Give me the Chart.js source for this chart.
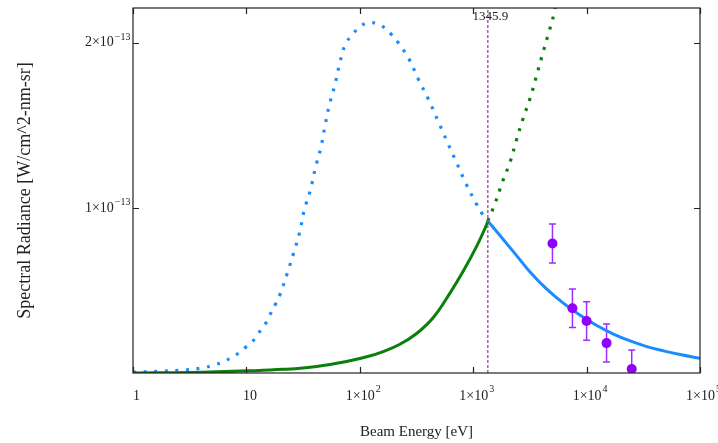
<!DOCTYPE html>
<html>
<head>
<meta charset="utf-8">
<script src="https://cdn.jsdelivr.net/npm/chart.js@4.4.1/dist/chart.umd.min.js"></script>
<style>
  html, body { margin: 0; padding: 0; background: #fff; }
  #wrap { width: 718px; height: 443px; position: relative; }
</style>
</head>
<body>
<div id="wrap"><canvas id="chart"></canvas></div>
<script>
// blue curve: rising part (dotted) up to the crossing energy
const blueRiseE = [1, 1.84, 2.76, 4.15, 5.13, 6.31, 7.28, 8.63, 9.93, 11.2, 12.6, 14.5, 16.0, 17.9, 19.8, 22.9, 26.2, 29.6, 32.3, 36.8, 40.4, 45.4, 49.2, 53.7, 60.3, 66.4, 75.0, 84.7, 100, 120, 145, 169, 189, 218, 271, 327, 405, 489, 590, 714, 863, 1074, 1202, 1345.9];
const blueRiseV = [0.004e-13, 0.011e-13, 0.018e-13, 0.031e-13, 0.048e-13, 0.068e-13, 0.092e-13, 0.122e-13, 0.158e-13, 0.187e-13, 0.236e-13, 0.291e-13, 0.348e-13, 0.412e-13, 0.476e-13, 0.603e-13, 0.730e-13, 0.857e-13, 0.984e-13, 1.111e-13, 1.237e-13, 1.366e-13, 1.491e-13, 1.618e-13, 1.745e-13, 1.873e-13, 1.994e-13, 2.042e-13, 2.097e-13, 2.121e-13, 2.113e-13, 2.085e-13, 2.051e-13, 2.000e-13, 1.902e-13, 1.781e-13, 1.654e-13, 1.527e-13, 1.400e-13, 1.273e-13, 1.147e-13, 1.020e-13, 0.964e-13, 0.920e-13];

// blue curve: falling part (solid) above the crossing energy
const blueFallE = [1345.9, 2259, 3170, 4457, 6237, 8770, 12300, 17260, 24210, 33960, 47640, 66830, 100000];
const blueFallV = [0.920e-13, 0.735e-13, 0.612e-13, 0.508e-13, 0.423e-13, 0.350e-13, 0.288e-13, 0.236e-13, 0.194e-13, 0.160e-13, 0.134e-13, 0.112e-13, 0.089e-13];

// green curve: solid below the crossing, dotted above
const greenRiseE = [1, 3.16, 10.7, 21.1, 41.6, 81.8, 115, 161, 226, 317, 445, 624, 818, 1074, 1315, 1345.9];
const greenRiseV = [0, 0.003e-13, 0.013e-13, 0.022e-13, 0.040e-13, 0.074e-13, 0.098e-13, 0.130e-13, 0.174e-13, 0.239e-13, 0.336e-13, 0.484e-13, 0.617e-13, 0.768e-13, 0.899e-13, 0.920e-13];
const greenClimbE = [1345.9, 1556, 1807, 2123, 2399, 2735, 3170, 3581, 4027, 4550, 5140, 5560];
const greenClimbV = [0.920e-13, 1.026e-13, 1.155e-13, 1.281e-13, 1.408e-13, 1.535e-13, 1.662e-13, 1.789e-13, 1.915e-13, 2.042e-13, 2.171e-13, 2.300e-13];

// measured points with error bars
const dataE = [5000, 7500, 10000, 15000, 25000];
const dataV = [0.784e-13, 0.392e-13, 0.315e-13, 0.181e-13, 0.024e-13];
const dataErr = [0.118e-13, 0.116e-13, 0.117e-13, 0.115e-13, 0.115e-13];

const crossE = 1345.9;
const crossLabel = '1345.9';

const xMin = 1, xMax = 1e5;
const yMin = 0, yMax = 2.21e-13;

const xTicks = [1, 10, 100, 1000, 10000, 100000];
const xTickBase = ['1', '10', '1×10', '1×10', '1×10', '1×10'];
const xTickExp = ['', '', '2', '3', '4', '5'];
const yTicks = [1e-13, 2e-13];
const yTickBase = ['1×10', '2×10'];
const yTickExp = ['−13', '−13'];

const BLUE = '#1a8cff';
const GREEN = '#0a7f0a';
const VIOLET = '#8f00ff';
const SERIF = '"Liberation Serif", "Times New Roman", serif';

function toPoints(xs, ys) {
    return xs.map((x, i) => ({ x: x, y: ys[i] }));
}

function curve(xs, ys, color, dotted) {
    return {
        data: toPoints(xs, ys),
        showLine: true,
        borderColor: color,
        borderWidth: dotted ? 3.2 : 3,
        borderDash: dotted ? [3, 7.6] : [],
        borderCapStyle: 'butt',
        tension: 0.4,
        pointRadius: 0,
        fill: false,
    };
}

// error bars, inward ticks, frame and superscript tick labels
const axisDecor = {
    id: 'axisDecor',
    beforeDatasetsDraw(chart) {
        const { ctx, chartArea: a, scales: { x, y } } = chart;
        ctx.save();
        ctx.beginPath();
        ctx.rect(a.left, a.top, a.right - a.left, a.bottom - a.top);
        ctx.clip();
        ctx.strokeStyle = '#9a30ff';
        ctx.lineWidth = 1.5;
        dataE.forEach((e, i) => {
            const px = x.getPixelForValue(e);
            const top = y.getPixelForValue(dataV[i] + dataErr[i]);
            const bot = y.getPixelForValue(dataV[i] - dataErr[i]);
            ctx.beginPath();
            ctx.moveTo(px, top); ctx.lineTo(px, bot);
            ctx.moveTo(px - 3.5, top); ctx.lineTo(px + 3.5, top);
            ctx.moveTo(px - 3.5, bot); ctx.lineTo(px + 3.5, bot);
            ctx.stroke();
        });
        ctx.restore();
    },
    afterDraw(chart) {
        const { ctx, chartArea: a, scales: { x, y } } = chart;
        ctx.save();
        ctx.strokeStyle = '#222';
        ctx.lineWidth = 1.2;
        ctx.strokeRect(a.left, a.top, a.right - a.left, a.bottom - a.top);

        ctx.beginPath();
        xTicks.forEach(v => {
            const px = Math.round(x.getPixelForValue(v)) + 0.5;
            ctx.moveTo(px, a.bottom); ctx.lineTo(px, a.bottom - 6);
            ctx.moveTo(px, a.top); ctx.lineTo(px, a.top + 6);
        });
        yTicks.forEach(v => {
            const py = Math.round(y.getPixelForValue(v)) + 0.5;
            ctx.moveTo(a.left, py); ctx.lineTo(a.left + 6, py);
            ctx.moveTo(a.right, py); ctx.lineTo(a.right - 6, py);
        });
        ctx.stroke();

        const baseFont = '14px ' + SERIF;
        const expFont = '10px ' + SERIF;
        ctx.fillStyle = '#222';
        ctx.textBaseline = 'middle';
        ctx.textAlign = 'left';

        xTicks.forEach((v, i) => {
            ctx.font = baseFont;
            const wb = ctx.measureText(xTickBase[i]).width;
            ctx.font = expFont;
            const we = xTickExp[i] ? ctx.measureText(xTickExp[i]).width + 1 : 0;
            const cx = x.getPixelForValue(v) + 3.5;
            const left = cx - (wb + we) / 2;
            const cy = a.bottom + 23;
            ctx.font = baseFont;
            ctx.fillText(xTickBase[i], left, cy);
            if (xTickExp[i]) {
                ctx.font = expFont;
                ctx.fillText(xTickExp[i], left + wb + 1, cy - 7);
            }
        });

        yTicks.forEach((v, i) => {
            ctx.font = expFont;
            const we = ctx.measureText(yTickExp[i]).width;
            ctx.font = baseFont;
            const wb = ctx.measureText(yTickBase[i]).width;
            const right = a.left - 2.5;
            const cy = y.getPixelForValue(v);
            ctx.fillText(yTickBase[i], right - we - 1 - wb, cy);
            ctx.font = expFont;
            ctx.fillText(yTickExp[i], right - we, cy - 5.5);
        });

        ctx.font = '13px ' + SERIF;
        ctx.textAlign = 'center';
        ctx.fillText(crossLabel, x.getPixelForValue(crossE) + 2.5, a.top + 9);
        ctx.restore();
    }
};

new Chart(document.getElementById('chart'), {
    type: 'scatter',
    data: {
        datasets: [
            {
                data: toPoints(dataE, dataV),
                pointRadius: 5,
                pointBackgroundColor: VIOLET,
                pointBorderWidth: 0,
                showLine: false,
            },
            {
                data: [{ x: crossE, y: yMin }, { x: crossE, y: yMax }],
                showLine: true,
                borderColor: 'rgb(160,80,160)',
                borderWidth: 1.4,
                borderDash: [3, 2],
                pointRadius: 0,
            },
            curve(greenRiseE, greenRiseV, GREEN, false),
            curve(blueFallE, blueFallV, BLUE, false),
            curve(blueRiseE, blueRiseV, BLUE, true),
            curve(greenClimbE, greenClimbV, GREEN, true),
        ]
    },
    options: {
        responsive: true,
        maintainAspectRatio: false,
        animation: false,
        layout: {
            autoPadding: false,
            padding: { left: 14, right: 18, top: 8, bottom: 2 }
        },
        plugins: {
            legend: { display: false },
            tooltip: { enabled: false }
        },
        scales: {
            x: {
                type: 'logarithmic',
                min: xMin,
                max: xMax,
                afterBuildTicks: s => { s.ticks = xTicks.map(v => ({ value: v })); },
                afterFit: s => { s.height = 68; },
                ticks: { display: false },
                grid: { display: false },
                border: { display: false },
                title: {
                    display: true,
                    text: 'Beam Energy [eV]',
                    color: '#222',
                    padding: 0,
                    font: { family: SERIF, size: 15 }
                }
            },
            y: {
                type: 'linear',
                min: yMin,
                max: yMax,
                afterBuildTicks: s => { s.ticks = yTicks.map(v => ({ value: v })); },
                afterFit: s => { s.width = 119; },
                ticks: { display: false },
                grid: { display: false },
                border: { display: false },
                title: {
                    display: true,
                    text: 'Spectral Radiance [W/cm^2-nm-sr]',
                    color: '#222',
                    padding: 0,
                    font: { family: SERIF, size: 18 }
                }
            }
        }
    },
    plugins: [axisDecor]
});
</script>
</body>
</html>
